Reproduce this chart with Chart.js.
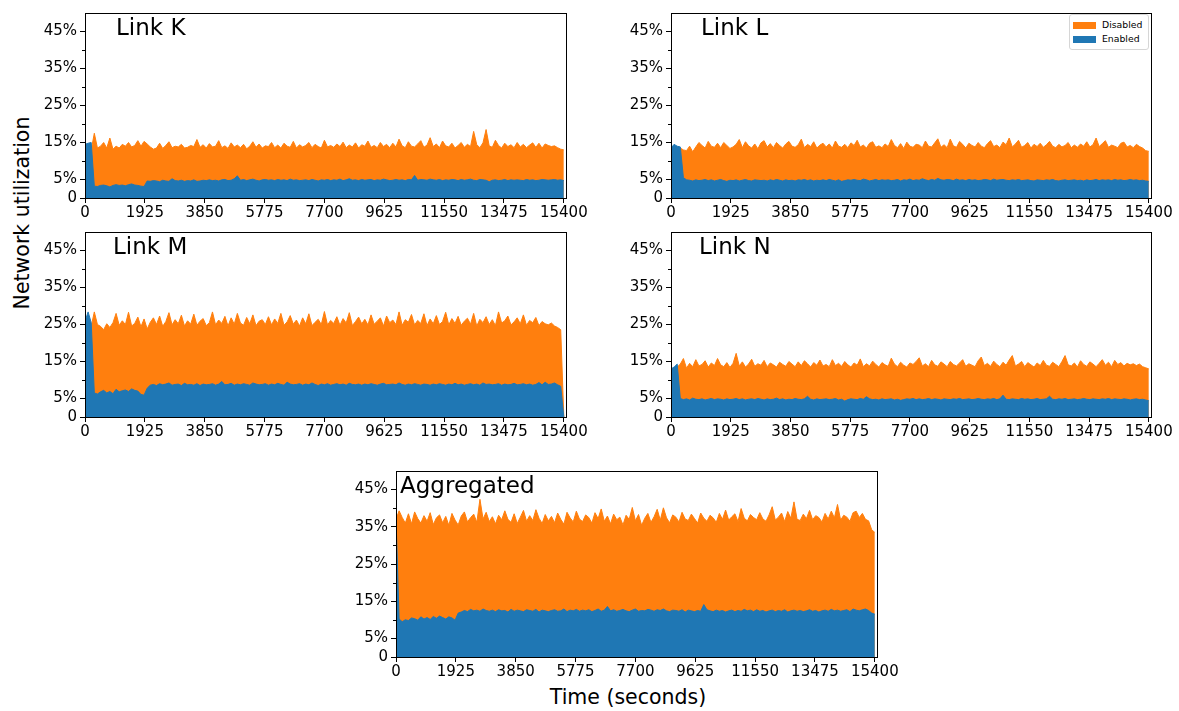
<!DOCTYPE html>
<html>
<head>
<meta charset="utf-8">
<script src="https://cdn.jsdelivr.net/npm/chart.js@4.4.0/dist/chart.umd.min.js"></script>
<style>
  body { margin:0; background:#fff; width:1179px; height:711px; position:relative; overflow:hidden; font-family:"DejaVu Sans", sans-serif; }
  canvas { position:absolute; }
  .axis-title { position:absolute; font-size:20.5px; color:#000; white-space:nowrap; }
  #ylab { left:22px; top:213px; transform:translate(-50%,-50%) rotate(-90deg); }
  #xlab { left:628px; top:697px; transform:translate(-50%,-50%); }
  #legend { position:absolute; left:1069px; top:14px; width:78px; height:34px; border:1px solid #d6d6d6; border-radius:3px; background:#fff; font-size:9.3px; }
  #legend .sw { position:absolute; left:3px; width:23px; height:7px; }
  #legend .tx { position:absolute; left:32px; line-height:11px; }
</style>
</head>
<body>
<div class="axis-title" id="ylab">Network utilization</div>
<div class="axis-title" id="xlab">Time (seconds)</div>

<script>
// sample times (seconds)
const times = [
  0,100,200,300,400,500,600,700,800,900,
  1000,1100,1200,1300,1400,1500,1600,1700,1800,1900,
  2000,2100,2200,2300,2400,2500,2600,2700,2800,2900,
  3000,3100,3200,3300,3400,3500,3600,3700,3800,3900,
  4000,4100,4200,4300,4400,4500,4600,4700,4800,4900,
  5000,5100,5200,5300,5400,5500,5600,5700,5800,5900,
  6000,6100,6200,6300,6400,6500,6600,6700,6800,6900,
  7000,7100,7200,7300,7400,7500,7600,7700,7800,7900,
  8000,8100,8200,8300,8400,8500,8600,8700,8800,8900,
  9000,9100,9200,9300,9400,9500,9600,9700,9800,9900,
  10000,10100,10200,10300,10400,10500,10600,10700,10800,10900,
  11000,11100,11200,11300,11400,11500,11600,11700,11800,11900,
  12000,12100,12200,12300,12400,12500,12600,12700,12800,12900,
  13000,13100,13200,13300,13400,13500,13600,13700,13800,13900,
  14000,14100,14200,14300,14400,14500,14600,14700,14800,14900,
  15000,15100,15200,15300,15400
];

const xTickValues = [0,1925,3850,5775,7700,9625,11550,13475,15400];
const yTickValues = [0,5,15,25,35,45];
const yTickLabels = ['0','5%','15%','25%','35%','45%'];
const yMinorTicks = [10,20,30,40];

const seriesNames = ['Disabled', 'Enabled'];

// Link K
const linkKDisabled = [
  13,13,13,17.5,13.5,14,15,13.5,16.2,13.2,
  14,13.5,14.5,14,15,13.8,14.2,15.5,14,15.3,
  14.6,13.8,13.2,13.5,14.8,13.4,14.2,15.2,13.6,14,
  13.8,14.5,13.5,13.7,14.2,13.9,15.8,13.7,14.4,13.5,
  14.7,13.8,14,15.5,13.6,14.1,13.4,14.9,13.8,14.3,
  13.6,14.5,13.3,14,15.2,13.7,14.6,13.5,14.1,13.9,
  15,13.6,14.3,13.5,14.8,14,13.7,15.3,13.5,14.4,
  13.8,14.2,15,13.6,14.5,13.9,13.5,15.6,13.8,14.2,
  13.7,14.6,13.9,15.1,13.6,14.3,13.8,14.9,13.5,14.4,
  14,15.4,13.7,14.2,13.6,15,13.9,14.5,13.6,14.8,
  13.8,15.9,14.1,13.6,15.2,14,13.8,14.6,15.5,13.7,
  14.3,16.3,13.9,14.6,13.6,15.4,14.1,13.8,14.8,13.5,
  14.2,15,13.7,14.5,13.9,18,14.4,13.6,14.9,18.5,
  14.1,13.7,15.6,14.2,13.5,14.8,13.9,14.4,13.6,15,
  13.8,14.5,13.6,14.3,14.9,13.7,14.8,13.5,14.6,14.2,
  13.9,14.1,13.6,13.2,13.0
];
const linkKEnabled = [
  14.5,14.8,15,3.2,3.1,3.4,3.5,3.3,3.0,3.4,
  3.6,3.4,3.5,3.3,3.6,3.8,3.5,3.4,3.2,3.1,
  4.6,4.5,4.7,4.6,4.4,4.8,4.6,4.5,5.2,4.7,
  4.6,4.8,4.5,4.7,4.6,4.9,4.5,4.6,4.8,4.7,
  4.9,4.7,4.8,4.6,4.9,5.0,4.7,4.8,5.2,6.0,
  4.8,5.0,4.7,4.9,5.1,4.8,4.6,4.9,5.0,4.8,
  4.9,4.7,5.0,4.8,4.9,4.7,5.1,4.8,4.9,4.7,
  4.8,4.9,4.7,5.0,4.8,4.6,4.9,4.8,5.0,4.7,
  4.9,4.8,5.1,4.7,4.9,5.2,4.8,4.9,4.7,5.0,
  4.8,4.9,5.0,4.7,4.9,4.8,5.1,4.9,4.7,4.8,
  5.0,4.8,4.9,4.7,5.0,4.9,6.1,4.8,5.0,4.9,
  4.8,5.1,4.9,4.8,5.0,4.7,4.9,4.8,5.0,4.9,
  4.7,5.0,4.8,4.9,5.1,4.8,4.7,5.0,4.9,4.8,
  4.4,4.8,4.9,4.7,4.8,5.0,4.7,4.9,4.8,4.9,
  4.8,4.7,5.0,4.8,4.9,4.7,4.8,5.0,4.9,4.8,
  4.9,5.0,4.8,4.9,4.7
];

// Link L
const linkLDisabled = [
  13,13,13,13.5,13,12.8,14,12.5,13.8,15,
  14.2,13.5,15.3,14,13.7,14.8,13.6,15,14.2,13.4,
  13.8,14.5,15.8,13.6,15.2,14.1,13.5,14.6,13.3,14.9,
  15.5,13.8,14.7,13.6,15,14.2,13.5,14.6,15.3,14,
  13.7,14.4,15.9,13.6,14.5,13.9,15.2,13.5,14.3,14.8,
  13.8,14.6,13.5,15.4,14,13.7,14.5,13.6,14.9,14.2,
  15.6,13.8,14.3,13.5,14.8,15.2,13.7,14.1,13.6,14.6,
  13.9,15.8,14.2,13.6,14.7,13.4,15.1,14,13.7,14.5,
  14.3,13.6,15.4,14,13.8,14.9,16,13.7,14.4,13.6,
  15.9,14.1,13.7,15.3,14.5,13.5,14.8,14.2,13.8,15,
  14,13.6,14.7,15.5,13.9,14.3,13.6,15.1,14.4,16.2,
  13.8,14.6,15.6,13.7,14.2,15,13.5,14.5,13.9,14.8,
  13.7,14.4,15.3,14,13.6,14.5,13.8,14.2,15,13.6,
  14.3,13.7,14.6,14,15.2,13.8,14.4,16.2,13.9,14.7,
  15.5,13.7,14.3,14,13.6,14.8,15.1,13.8,14.2,13.6,
  14.5,13.9,13.5,12.8,12.6
];
const linkLEnabled = [
  13.5,14.5,14,13.8,5.5,4.9,4.8,4.6,4.9,4.7,
  4.8,5.0,4.7,4.9,4.6,4.8,5.0,4.7,4.5,4.8,
  4.7,4.9,4.6,4.8,5.0,4.7,4.6,4.9,4.8,4.7,
  4.8,4.6,4.9,4.7,5.0,4.8,4.6,4.9,4.7,4.8,
  4.6,4.9,4.8,5.0,4.7,4.9,4.6,4.8,4.7,4.9,
  4.7,5.0,4.8,4.6,4.9,4.5,4.7,4.9,4.8,5.0,
  4.8,4.7,5.1,4.9,4.6,4.8,5.0,4.7,4.9,4.8,
  4.9,4.7,4.8,5.0,4.6,4.9,4.8,5.1,4.7,4.9,
  4.8,5.2,4.9,4.7,5.0,4.8,5.3,4.9,4.8,5.0,
  4.9,4.7,5.1,4.8,4.9,4.7,5.0,4.8,4.9,4.7,
  4.8,5.0,4.9,4.7,5.1,4.8,4.9,5.0,4.8,4.7,
  4.9,4.8,5.0,4.7,4.8,4.9,4.7,4.6,4.9,4.8,
  4.7,4.9,4.8,5.0,4.7,4.6,4.8,4.9,4.7,4.8,
  4.9,4.7,4.8,4.6,4.9,4.7,4.8,5.0,4.7,4.9,
  4.8,4.9,4.7,5.0,4.8,4.9,4.7,4.8,5.0,4.8,
  4.9,4.7,4.8,4.6,4.5
];

// Link M
const linkMDisabled = [
  24,24,24.5,28.4,25,24.5,23.6,25.2,24.2,25.5,
  28,24.8,26,25,28.3,24.6,25.3,27,24.4,26.5,
  23.8,25.6,26.8,25,27.3,24.5,25.8,28.2,24.9,26.3,
  25.2,27.5,24.6,26,25.1,27.8,24.8,25.9,26.6,24.7,
  25.5,28.4,24.9,26.2,25.3,27.2,24.6,26.8,25.1,28,
  25.4,24.8,26.9,25.2,27.6,24.7,25.9,26.3,25,27.1,
  24.9,26.5,25.3,28,24.8,25.7,27.4,25.1,26.2,24.6,
  26.8,25.2,27.9,24.7,25.6,26.4,25,28.5,24.9,26.1,
  25.3,27.1,24.8,26.6,25.4,28.2,24.7,25.8,27,25.2,
  26.4,24.9,27.6,25.1,25.9,26.8,24.6,27.3,25.5,26.2,
  25,28.4,24.8,26.3,25.6,27.7,24.9,26.1,25.3,27.9,
  24.7,26.5,25.2,27.4,25,25.8,28.3,24.9,26.6,25.3,
  27.2,24.8,25.9,26.7,25.1,28,24.6,26.4,25.5,27.1,
  25,26.3,24.7,28.4,25.4,26,27.3,24.9,25.7,26.8,
  25.2,27.6,24.8,26.1,25.5,26.9,24.7,25.8,25.2,24.9,
  25.4,24.6,24.2,23.6,0
];
const linkMEnabled = [
  25.8,28.4,25.5,6.5,6.2,6.8,7.2,6.5,6.9,6.3,
  7.5,6.8,7.1,7.3,6.9,7.6,7.2,7.0,6.1,5.9,
  7.8,8.6,8.8,8.5,9.0,8.7,8.9,9.2,8.6,8.8,
  8.9,8.5,9.1,8.7,8.8,8.6,9.0,8.5,8.9,8.7,
  8.8,9.0,8.6,8.9,9.6,8.7,8.8,9.1,8.6,8.9,
  8.7,9.0,8.8,8.6,9.2,8.9,8.7,8.8,9.0,8.6,
  8.9,8.7,9.1,8.8,8.6,9.4,8.9,8.7,8.8,9.0,
  8.6,8.9,8.7,9.2,8.8,8.5,8.9,8.7,9.0,8.6,
  8.8,9.0,8.7,8.9,8.6,9.1,8.8,8.7,8.9,8.6,
  8.9,8.7,9.0,8.8,8.6,8.9,9.1,8.7,8.8,8.9,
  8.7,9.2,8.8,8.6,8.9,8.7,9.0,8.8,8.6,8.9,
  8.8,8.6,8.9,8.7,9.0,8.8,8.6,8.9,8.7,9.1,
  8.7,8.9,8.6,8.8,9.0,8.7,8.9,8.6,9.2,8.8,
  8.9,8.7,8.8,9.0,8.6,8.9,8.7,8.8,9.1,8.7,
  8.8,9.0,8.7,8.9,8.6,8.8,9.3,8.7,9.4,8.8,
  8.9,9.2,8.7,8.3,0
];

// Link N
const linkNDisabled = [
  13,13,13.5,14.3,15.8,13.2,14.5,13.6,15.5,13.8,
  14.2,15.2,13.5,14.6,13.9,15.8,14.1,13.6,14.7,13.4,
  14.5,17.2,13.8,14.9,13.5,14.3,15.6,13.7,14.4,14,
  15.3,13.6,14.6,14.1,13.5,14.8,14.2,13.7,15,14.3,
  13.6,14.9,13.9,15.2,14.4,13.5,14.7,14,15.4,13.8,
  14.2,13.6,15.5,13.9,14.5,13.7,15,14.1,13.5,14.6,
  14,15.7,13.6,14.4,13.8,15.1,14.2,13.5,14.7,14.1,
  13.7,15.9,14.3,13.6,14.8,14,13.5,14.6,14.2,15,
  16,13.8,14.4,13.6,15.3,14.1,13.7,14.9,14.3,13.6,
  15,14.2,13.8,14.6,15.5,13.7,14.4,14,13.6,15.2,
  16.2,13.9,14.5,13.7,15.1,14.2,13.6,14.8,14,15.4,
  16.6,13.8,14.3,15,13.6,14.7,14.1,13.5,14.6,13.9,
  15.3,14,13.7,14.8,14.2,13.6,15,16.6,14.1,13.8,
  14.6,13.5,15.2,14.2,13.7,14.9,14.3,13.6,14.5,15.5,
  14,14.8,13.6,15.3,14.2,14.7,13.8,14.5,14.1,14.4,
  13.9,14.3,13.6,13.3,13.0
];
const linkNEnabled = [
  13,13.5,14.3,5.0,4.7,4.9,4.6,5.1,4.8,4.7,
  4.9,4.6,4.8,5.0,4.7,4.9,4.8,4.6,4.9,4.7,
  4.8,5.0,4.7,4.9,4.6,4.8,4.9,4.7,5.0,4.8,
  4.6,4.9,4.7,4.8,5.1,4.7,4.9,4.6,4.8,4.7,
  5.0,4.8,4.7,4.9,5.6,4.8,4.6,4.9,4.7,4.8,
  4.9,4.7,4.8,5.0,4.6,4.8,4.3,4.7,4.9,4.8,
  4.7,5.0,4.8,5.5,4.9,4.7,4.8,4.6,4.9,4.7,
  4.8,4.9,4.6,4.8,4.5,4.7,4.9,4.8,5.0,4.7,
  4.9,4.7,4.8,5.0,4.7,4.9,4.8,4.6,4.9,4.8,
  4.7,4.9,4.8,5.0,4.7,4.8,4.9,4.7,4.8,5.0,
  4.8,4.7,4.9,4.8,5.0,4.7,4.9,5.9,4.8,4.7,
  4.9,4.8,4.7,5.0,4.8,4.9,4.7,4.8,5.0,4.7,
  4.8,4.9,5.6,4.8,4.7,4.9,4.8,5.0,4.7,4.8,
  4.9,4.7,4.8,5.0,4.8,4.7,4.9,4.8,4.7,4.9,
  4.8,5.0,4.7,4.9,4.8,4.7,4.9,4.8,4.6,4.8,
  4.9,4.7,4.8,4.6,4.4
];

// Aggregated
const aggDisabled = [
  37,39.3,37.5,36,38.5,35.8,39,37.2,36,38,
  36.5,38.8,35.6,37.4,38.2,36.1,37.8,35.4,38.6,36.8,
  35.5,37.9,39,36.3,37.5,38.4,36.2,42.4,37.1,38.9,
  36.4,37.7,35.8,38.1,36.9,39.3,37,36.2,38.5,35.9,
  37.6,39.4,36.5,38,36.7,39.6,37.3,35.9,38.3,36.6,
  37.8,36.1,38.7,37,35.7,38.9,37.4,36.3,39.2,37.1,
  36.4,38.2,37.5,36,38.8,37.2,39.8,36.5,37.9,35.8,
  38.4,36.9,37.6,35.5,38.1,37,40.2,36.6,38.3,35.4,
  37.3,38.6,36.2,37.7,39.7,36.8,40.1,37.4,36.1,38.2,
  37.6,36.3,38.9,37.1,36.7,38.4,37.2,36,38.7,37.3,
  36.5,38.1,37.4,36.2,38.6,37,39.5,36.8,37.7,38.5,
  36.4,39.9,37.3,36.6,38.3,37.5,36.9,38.8,37.1,36.5,
  38.2,40.4,36.8,37.6,38.7,36.4,39.1,37.3,41.7,37,
  36.7,38.4,37.2,39.4,36.9,38,37.5,36.3,38.6,37.1,
  39.2,37.4,41,36.8,38.1,37.6,36.5,38.8,39.2,37.5,
  38.6,37,36.6,34.2,33.5
];
const aggEnabled = [
  37.5,10.2,9.5,10,9.8,10.5,10.3,9.9,10.8,10.2,
  10.6,10.1,10.9,10.4,11,10.6,10.2,10.8,10.5,9.9,
  11.8,12.1,12.5,12.2,12.8,12.4,12.6,12.3,12.9,12.5,
  12.3,12.6,12.2,12.7,12.4,12.5,12.1,12.8,12.3,12.6,
  12.4,12.2,12.7,12.5,12.3,12.8,12.1,12.6,12.4,12.2,
  12.5,12.7,12.3,12.4,12.9,12.2,12.6,12.4,12.8,12.3,
  12.6,12.4,12.7,12.2,12.5,12.9,12.3,12.6,13.6,12.4,
  12.7,12.3,12.5,12.8,12.4,12.2,12.6,12.9,12.3,12.5,
  12.4,12.8,12.6,12.3,12.7,12.5,12.9,12.4,12.2,12.6,
  12.5,12.3,12.7,12.1,12.6,12.4,12.2,12.5,12.3,14.1,
  12.7,12.4,12.2,12.6,12.3,12.5,12.1,12.4,12.6,12.2,
  12.5,12.3,12.8,12.4,12.6,12.2,12.7,12.3,12.5,12.1,
  12.4,12.6,12.2,12.5,12.3,12.7,12.1,12.4,12.6,12.3,
  12.5,12.2,12.4,12.7,12.3,12.5,12.1,12.4,12.6,12.3,
  12.8,12.4,12.6,12.3,12.5,12.7,12.2,12.9,12.6,12.4,
  12.7,12.9,12.5,11.8,11.5
];

const ORANGE = '#ff7f0e';
const BLUE = '#1f77b4';
const FONT = '"DejaVu Sans", sans-serif';

// plot-area boxes on the page: left, top, width, height
const panels = [
  { name: 'Link K',     box: [85, 13, 481, 185],  titleDx: 31, disabled: linkKDisabled, enabled: linkKEnabled },
  { name: 'Link L',     box: [671, 13, 480, 185], titleDx: 30, disabled: linkLDisabled, enabled: linkLEnabled },
  { name: 'Link M',     box: [85, 232, 481, 185], titleDx: 28, disabled: linkMDisabled, enabled: linkMEnabled },
  { name: 'Link N',     box: [671, 232, 480, 185],titleDx: 28, disabled: linkNDisabled, enabled: linkNEnabled },
  { name: 'Aggregated', box: [396, 471, 481, 186],titleDx: 4,  disabled: aggDisabled,   enabled: aggEnabled }
];

const PAD_L = 70, PAD_T = 10, PAD_R = 40, PAD_B = 30;

// box round the plot, short minor ticks on y, and the panel name
const framePlugin = {
  id: 'frame',
  afterDatasetsDraw(chart, args, opts) {
    const a = chart.chartArea, ctx = chart.ctx;
    const yScale = chart.scales.y;
    ctx.save();
    ctx.strokeStyle = '#000';
    ctx.lineWidth = 1;
    ctx.strokeRect(Math.round(a.left) + 0.5, Math.round(a.top) + 0.5,
                   Math.round(a.right - a.left), Math.round(a.bottom - a.top));
    yMinorTicks.forEach((v) => {
      const py = Math.round(yScale.getPixelForValue(v)) + 0.5;
      ctx.beginPath();
      ctx.moveTo(a.left - 3, py);
      ctx.lineTo(a.left, py);
      ctx.stroke();
    });
    ctx.fillStyle = '#000';
    ctx.font = '23px ' + FONT;
    ctx.textBaseline = 'top';
    ctx.textAlign = 'left';
    ctx.fillText(opts.text, a.left + opts.dx, a.top + 5);
    ctx.restore();
  }
};

function makeSeries(values) {
  return values.map((v, i) => ({ x: times[i], y: v }));
}

panels.forEach((p) => {
  const [left, top, w, h] = p.box;
  const canvas = document.createElement('canvas');
  canvas.width = w + PAD_L + PAD_R;
  canvas.height = h + PAD_T + PAD_B;
  canvas.style.left = (left - PAD_L) + 'px';
  canvas.style.top = (top - PAD_T) + 'px';
  document.body.appendChild(canvas);

  new Chart(canvas, {
    type: 'line',
    data: {
      datasets: [
        { label: seriesNames[0], data: makeSeries(p.disabled), borderColor: ORANGE, backgroundColor: ORANGE,
          fill: 'origin', borderWidth: 1, pointRadius: 0, tension: 0, order: 1 },
        { label: seriesNames[1], data: makeSeries(p.enabled), borderColor: BLUE, backgroundColor: BLUE,
          fill: 'origin', borderWidth: 1, pointRadius: 0, tension: 0, order: 0 }
      ]
    },
    options: {
      responsive: false,
      animation: false,
      devicePixelRatio: 1,
      layout: { padding: { left: 0, top: PAD_T, right: PAD_R, bottom: 0 } },
      plugins: {
        legend: { display: false },
        tooltip: { enabled: false },
        frame: { text: p.name, dx: p.titleDx }
      },
      scales: {
        x: {
          type: 'linear',
          min: 0,
          max: 15470,
          afterBuildTicks: (scale) => { scale.ticks = xTickValues.map(v => ({ value: v })); },
          afterFit: (scale) => { scale.height = PAD_B; scale.paddingLeft = 0; scale.paddingRight = 0; },
          ticks: {
            autoSkip: false, maxRotation: 0, color: '#000', padding: 1,
            font: { family: FONT, size: 15 },
            callback: (v) => String(v)
          },
          grid: { drawOnChartArea: false, drawTicks: true, tickLength: 5, tickColor: '#000' },
          border: { display: true, color: '#000' }
        },
        y: {
          min: 0,
          max: 50,
          afterBuildTicks: (scale) => { scale.ticks = yTickValues.map(v => ({ value: v })); },
          afterFit: (scale) => { scale.width = PAD_L; scale.paddingTop = 0; scale.paddingBottom = 0; },
          ticks: {
            autoSkip: false, color: '#000', padding: 3,
            font: { family: FONT, size: 15 },
            callback: (v) => yTickLabels[yTickValues.indexOf(v)]
          },
          grid: { drawOnChartArea: false, drawTicks: true, tickLength: 5, tickColor: '#000' },
          border: { display: true, color: '#000' }
        }
      }
    },
    plugins: [framePlugin]
  });
});
</script>

<div id="legend">
  <div class="sw" style="top:7px;background:#ff7f0e"></div><div class="tx" style="top:4px">Disabled</div>
  <div class="sw" style="top:21px;background:#1f77b4"></div><div class="tx" style="top:18px">Enabled</div>
</div>
</body>
</html>
